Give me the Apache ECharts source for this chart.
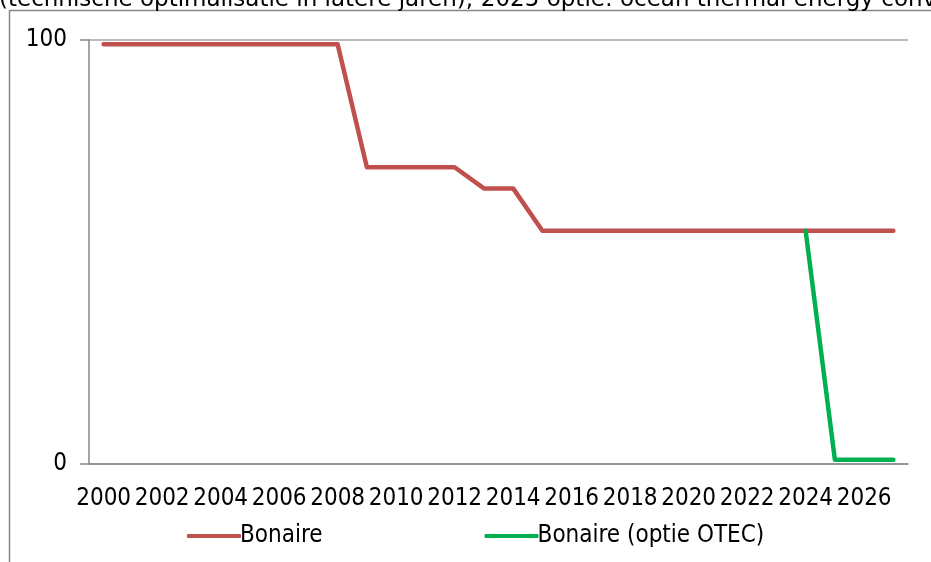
<!DOCTYPE html>
<html><head><meta charset="utf-8">
<script src="https://cdn.jsdelivr.net/npm/echarts@6/dist/echarts.min.js"></script>
<style>html,body{margin:0;padding:0;background:#fff}#c{width:931px;height:562px}</style>
</head><body><div id="c"></div>
<script>
const years = ['2000','2001','2002','2003','2004','2005','2006','2007','2008','2009','2010','2011','2012','2013','2014','2015','2016','2017','2018','2019','2020','2021','2022','2023','2024','2025','2026','2027'];
const bonaire = [99,99,99,99,99,99,99,99,99,70,70,70,70,65,65,55,55,55,55,55,55,55,55,55,55,55,55,55];
const bonaireOtec = [null,null,null,null,null,null,null,null,null,null,null,null,null,null,null,null,null,null,null,null,null,null,null,null,55,1,1,1];
const yTicks = [0,100];
const seriesNames = ['Bonaire','Bonaire (optie OTEC)'];
const titleText = '(technische optimalisatie in latere jaren); 2025 optie: ocean thermal energy conversion';

const FONT = '"Liberation Sans Narrow", "DejaVu Sans Condensed", sans-serif';
const chart = echarts.init(document.getElementById('c'), null, {renderer:'canvas'});
chart.setOption({
  animation:false,
  backgroundColor:'#fff',
  graphic:[
    {type:'text', left:-1, top:-11, style:{text:titleText, font:'23px "DejaVu Sans"', fill:'#000'}},
    {type:'rect', shape:{x:9.5,y:10.5,width:1000,height:700}, style:{fill:'none', stroke:'#868686', lineWidth:1.5}, z:-1}
  ],
  grid:{left:89, right:23, top:40, bottom:98},
  legend:{
    data:seriesNames, left:182, top:519, itemWidth:54, itemHeight:4, itemGap:162, icon:'roundRect',
    textStyle:{fontFamily:FONT, fontSize:24, color:'#000', padding:[0,0,0,-6]}
  },
  xAxis:{
    type:'category', data:years, boundaryGap:true,
    axisLine:{lineStyle:{color:'#868686', width:1.5}},
    axisTick:{interval:0, length:8, lineStyle:{color:'#868686', width:1.5}},
    axisLabel:{interval:1, fontFamily:FONT, fontSize:24, color:'#000', margin:23},
    splitLine:{show:false}
  },
  yAxis:{
    type:'value', min:yTicks[0], max:yTicks[1], interval:100,
    axisLine:{show:true, lineStyle:{color:'#868686', width:1.5}},
    axisTick:{show:true, length:9, lineStyle:{color:'#868686', width:1.5}},
    axisLabel:{fontFamily:FONT, fontSize:24, color:'#000', margin:22},
    splitLine:{show:true, lineStyle:{color:'#a6a6a6', width:1.5}}
  },
  series:[
    {name:seriesNames[0], type:'line', data:bonaire, symbol:'none', lineStyle:{color:'#C0504D', width:4.5, cap:'round', join:'round'}, itemStyle:{color:'#C0504D'}},
    {name:seriesNames[1], type:'line', data:bonaireOtec, symbol:'none', lineStyle:{color:'#00B050', width:4.5, cap:'round', join:'round'}, itemStyle:{color:'#00B050'}}
  ]
});
</script></body></html>
